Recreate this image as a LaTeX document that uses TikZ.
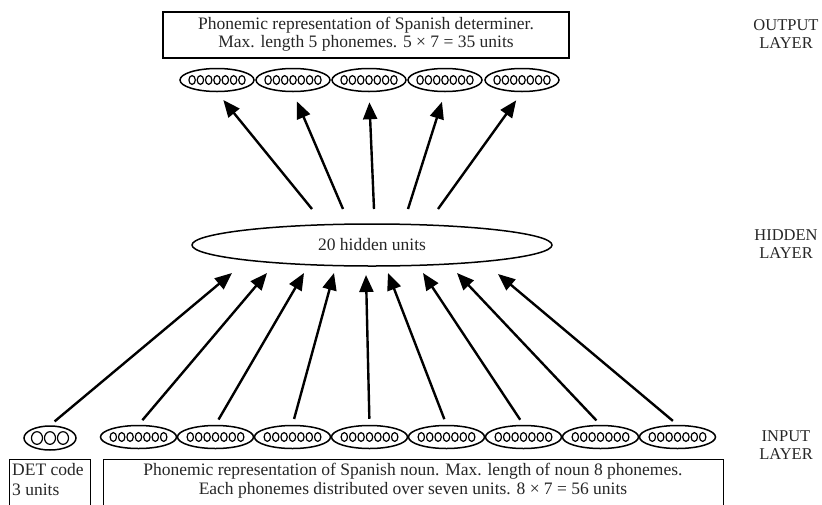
\documentclass[tikz,border=0pt]{standalone}
\usepackage{fontspec}
\setmainfont{Liberation Serif}
\usetikzlibrary{shapes.geometric,arrows.meta}
\begin{document}
\begin{tikzpicture}[x=1pt,y=-1pt,
  unit/.style={ellipse,draw,line width=1.5pt,minimum width=76pt,minimum height=23pt,inner sep=0pt},
  dot/.style={line width=1.2pt},
  arr/.style={line width=2.4pt,-{Triangle[length=17pt,width=14pt]}},
  lbl/.style={font=\fontsize{16.5}{17.5}\selectfont,align=center,text=black!85},
  txt/.style={font=\fontsize{17.5}{18.5}\selectfont,align=center,text=black!85},
  boxed/.style={draw,line width=1.4pt,inner sep=0pt}]
\useasboundingbox (0,0) rectangle (822,504);

% output layer
\node[boxed,minimum width=406pt,minimum height=46pt] (obox) at (366,35) {};
\node[txt] (otxt) at (366,34) {Phonemic representation of Spanish determiner.\\Max. length 5 phonemes. 5 × 7 = 35 units};
\foreach \i/\x in {1/217,2/293,3/369,4/445,5/522}{
  \node[unit,minimum width=74pt] (o\i) at (\x,80) {};
  \foreach \j in {-3,...,3} \draw[dot] (\x+\j*8.3,80) ellipse (3.2pt and 4.4pt);
}

% hidden layer
\node[ellipse,draw,line width=1.5pt,minimum width=360pt,minimum height=42pt,inner sep=0pt,txt] (hid) at (372,245) {20 hidden units};

% input layer
\node[unit,minimum width=52pt,minimum height=24pt] (d) at (50,438) {};
\foreach \j in {-1,0,1} \draw[dot] (50+\j*13,438) ellipse (5.5pt and 6.3pt);
\foreach \i in {1,...,8}{
  \pgfmathsetmacro{\xx}{138.5+77*(\i-1)}
  \node[unit] (n\i) at (\xx,437) {};
  \foreach \j in {-3,...,3} \draw[dot] (\xx+\j*8.4,437) ellipse (3.2pt and 4.4pt);
}

\node[boxed,minimum width=81pt,minimum height=60pt,anchor=north west] (dbox) at (9,459) {};
\node[font=\fontsize{17.5}{20.5}\selectfont,text=black!85,align=left,anchor=north west,inner sep=0pt] (dtxt) at (12,463) {DET code\\3 units};
\node[boxed,minimum width=620pt,minimum height=60pt,anchor=north west] (nbox) at (103,459) {};
\node[txt,anchor=north,inner sep=0pt] (ntxt) at (413,463) {Phonemic representation of Spanish noun. Max. length of noun 8 phonemes.\\Each phonemes distributed over seven units. 8 × 7 = 56 units};

% layer labels
\node[lbl] (lo) at (786,34) {OUTPUT\\LAYER};
\node[lbl] (lh) at (786,244) {HIDDEN\\LAYER};
\node[lbl] (li) at (786,445) {INPUT\\LAYER};

% arrows input -> hidden
\coordinate (h1) at (232,273);
\coordinate (h2) at (267,273);
\coordinate (h3) at (304,273);
\coordinate (h4) at (334,273);
\coordinate (h5) at (366,275);
\coordinate (h6) at (388,273);
\coordinate (h7) at (423,273);
\coordinate (h8) at (457,273);
\coordinate (h9) at (498,274);
\draw[arr,shorten <=6pt] (d.north) -- (h1);
\foreach \i/\k in {1/2,2/3,3/4,4/5,5/6,6/7,7/8,8/9}
  \draw[arr,shorten <=6pt] (n\i.north) -- (h\k);

% arrows hidden -> output
\coordinate (t1) at (312,209);
\coordinate (t2) at (343,209);
\coordinate (t3) at (374,209);
\coordinate (t4) at (408,209);
\coordinate (t5) at (438,209);
\foreach \i in {1,...,5}
  \draw[arr,shorten >=10pt] (t\i) -- (o\i.south);
\end{tikzpicture}
\end{document}
